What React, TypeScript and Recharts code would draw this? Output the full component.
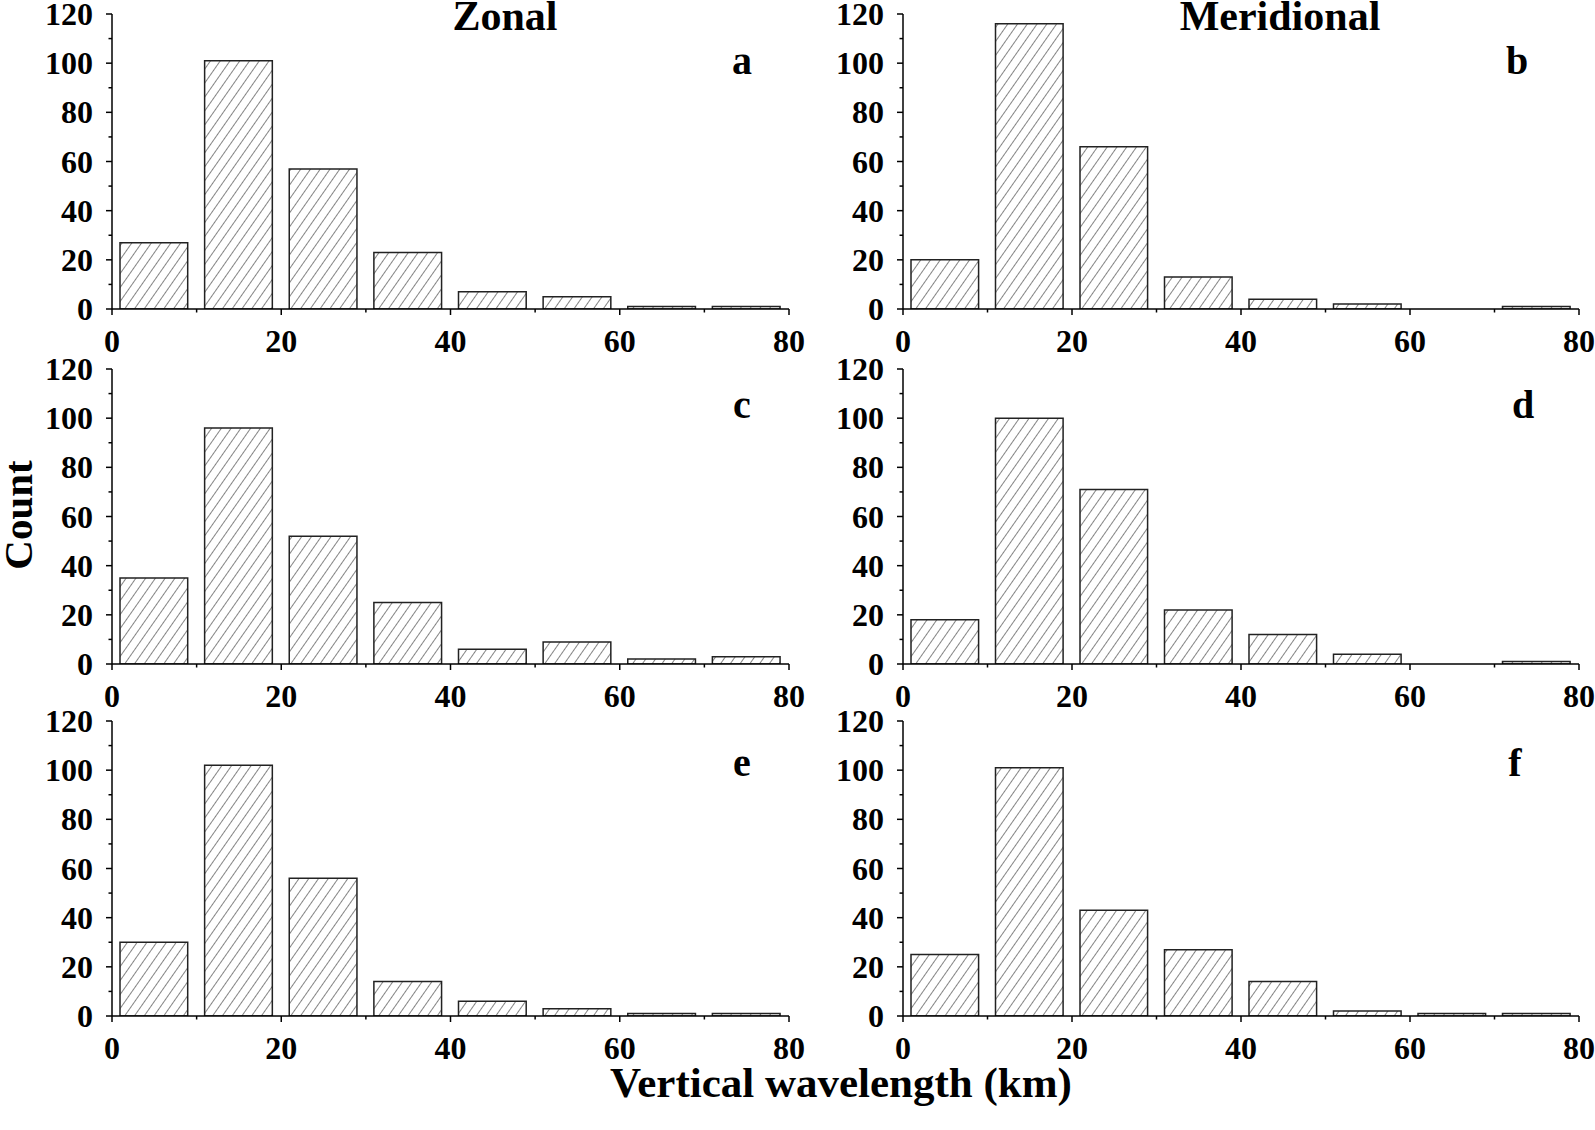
import React from 'react';
import { BarChart, Bar, XAxis, YAxis } from 'recharts';

// bin centres (km), bins are 10 km wide
const binCenters = [5, 15, 25, 35, 45, 55, 65, 75];

const countsA = [27, 101, 57, 23, 7, 5, 1, 1];
const countsB = [20, 116, 66, 13, 4, 2, 0, 1];
const countsC = [35, 96, 52, 25, 6, 9, 2, 3];
const countsD = [18, 100, 71, 22, 12, 4, 0, 1];
const countsE = [30, 102, 56, 14, 6, 3, 1, 1];
const countsF = [25, 101, 43, 27, 14, 2, 1, 1];

const xTicks = [0, 10, 20, 30, 40, 50, 60, 70, 80];
const yTicks = [0, 10, 20, 30, 40, 50, 60, 70, 80, 90, 100, 110, 120];

const FONT = '"Liberation Serif", "Times New Roman", serif';
const Y_AXIS_W = 112;
const RIGHT_M = 21;
const TOP_M = 30;
const PLOT_H = 295;
const X_AXIS_H = 40;
const BOTTOM_M = 30;

const XTick = (props: any) => {
  const { x, y, payload } = props;
  const major = payload.value % 20 === 0;
  return (
    <g>
      <line x1={x} x2={x} y1={y} y2={y + (major ? 6 : 3.5)} stroke="#000" strokeWidth={1.5} />
      {major && (
        <text x={x} y={y + 43} textAnchor="middle" fontFamily={FONT} fontWeight="bold" fontSize={32} fill="#000">
          {payload.value}
        </text>
      )}
    </g>
  );
};

const YTick = (props: any) => {
  const { x, y, payload } = props;
  const major = payload.value % 20 === 0;
  return (
    <g>
      <line x1={x} x2={x - (major ? 6 : 3.5)} y1={y} y2={y} stroke="#000" strokeWidth={1.5} />
      {major && (
        <text x={x - 19} y={y + 11} textAnchor="end" fontFamily={FONT} fontWeight="bold" fontSize={32} fill="#000">
          {payload.value}
        </text>
      )}
    </g>
  );
};

interface PanelProps {
  id: string;
  counts: number[];
  left: number;
  top: number;
  width: number;
}

const Panel: React.FC<PanelProps> = ({ id, counts, left, top, width }) => {
  const data = binCenters.map((b, i) => ({ bin: b, count: counts[i] }));
  const plotW = width - Y_AXIS_W - RIGHT_M;
  const barW = (plotW * 8) / 80;
  return (
    <div style={{ position: 'absolute', left, top }}>
      <BarChart
        width={width}
        height={TOP_M + PLOT_H + X_AXIS_H + BOTTOM_M}
        data={data}
        margin={{ top: TOP_M, right: RIGHT_M, bottom: BOTTOM_M, left: 0 }}
      >
        <defs>
          <pattern id={`hatch-${id}`} patternUnits="userSpaceOnUse" width={8} height={8} patternTransform="rotate(35)">
            <rect width={8} height={8} fill="#fff" />
            <line x1={0} y1={0} x2={0} y2={8} stroke="#333" strokeWidth={1.2} />
          </pattern>
        </defs>
        <XAxis
          type="number"
          dataKey="bin"
          domain={[0, 80]}
          ticks={xTicks}
          interval={0}
          tick={<XTick />}
          tickLine={false}
          tickSize={0}
          tickMargin={0}
          axisLine={{ stroke: '#000', strokeWidth: 1.5 }}
          height={X_AXIS_H}
          allowDataOverflow
        />
        <YAxis
          type="number"
          domain={[0, 120]}
          ticks={yTicks}
          interval={0}
          tick={<YTick />}
          tickLine={false}
          tickSize={0}
          tickMargin={0}
          axisLine={{ stroke: '#000', strokeWidth: 1.5 }}
          width={Y_AXIS_W}
          allowDataOverflow
        />
        <Bar
          dataKey="count"
          fill={`url(#hatch-${id})`}
          stroke="#222"
          strokeWidth={1.5}
          barSize={barW}
          isAnimationActive={false}
        />
      </BarChart>
    </div>
  );
};

// chart tops are offset by TOP_M so the plot areas start at 14, 369, 721
const panels = [
  { id: 'a', counts: countsA, left: 0, top: 14 - TOP_M, width: 810, lx: 742, ly: 74 },
  { id: 'b', counts: countsB, left: 791, top: 14 - TOP_M, width: 809, lx: 1517, ly: 74 },
  { id: 'c', counts: countsC, left: 0, top: 369 - TOP_M, width: 810, lx: 742, ly: 418 },
  { id: 'd', counts: countsD, left: 791, top: 369 - TOP_M, width: 809, lx: 1523, ly: 418 },
  { id: 'e', counts: countsE, left: 0, top: 721 - TOP_M, width: 810, lx: 742, ly: 776 },
  { id: 'f', counts: countsF, left: 791, top: 721 - TOP_M, width: 809, lx: 1515, ly: 776 },
];

export default function App() {
  return (
    <div style={{ position: 'absolute', left: 0, top: 0, width: 1595, height: 1130, background: '#fff', overflow: 'hidden' }}>
      {panels.map((p) => (
        <Panel key={p.id} id={p.id} counts={p.counts} left={p.left} top={p.top} width={p.width} />
      ))}
      <svg
        width={1595}
        height={1130}
        style={{ position: 'absolute', left: 0, top: 0, pointerEvents: 'none' }}
        fontFamily={FONT}
        fontWeight="bold"
      >
        <text x={505} y={30} textAnchor="middle" fontSize={42} fill="#000">Zonal</text>
        <text x={1280} y={30} textAnchor="middle" fontSize={42} fill="#000">Meridional</text>
        {panels.map((p) => (
          <text key={p.id} x={p.lx} y={p.ly} textAnchor="middle" fontSize={40} fill="#000">
            {p.id}
          </text>
        ))}
        <text transform="translate(32,515) rotate(-90)" textAnchor="middle" fontSize={41} fill="#000">Count</text>
        <text x={841} y={1097} textAnchor="middle" fontSize={43} fill="#000">Vertical wavelength (km)</text>
      </svg>
    </div>
  );
}
